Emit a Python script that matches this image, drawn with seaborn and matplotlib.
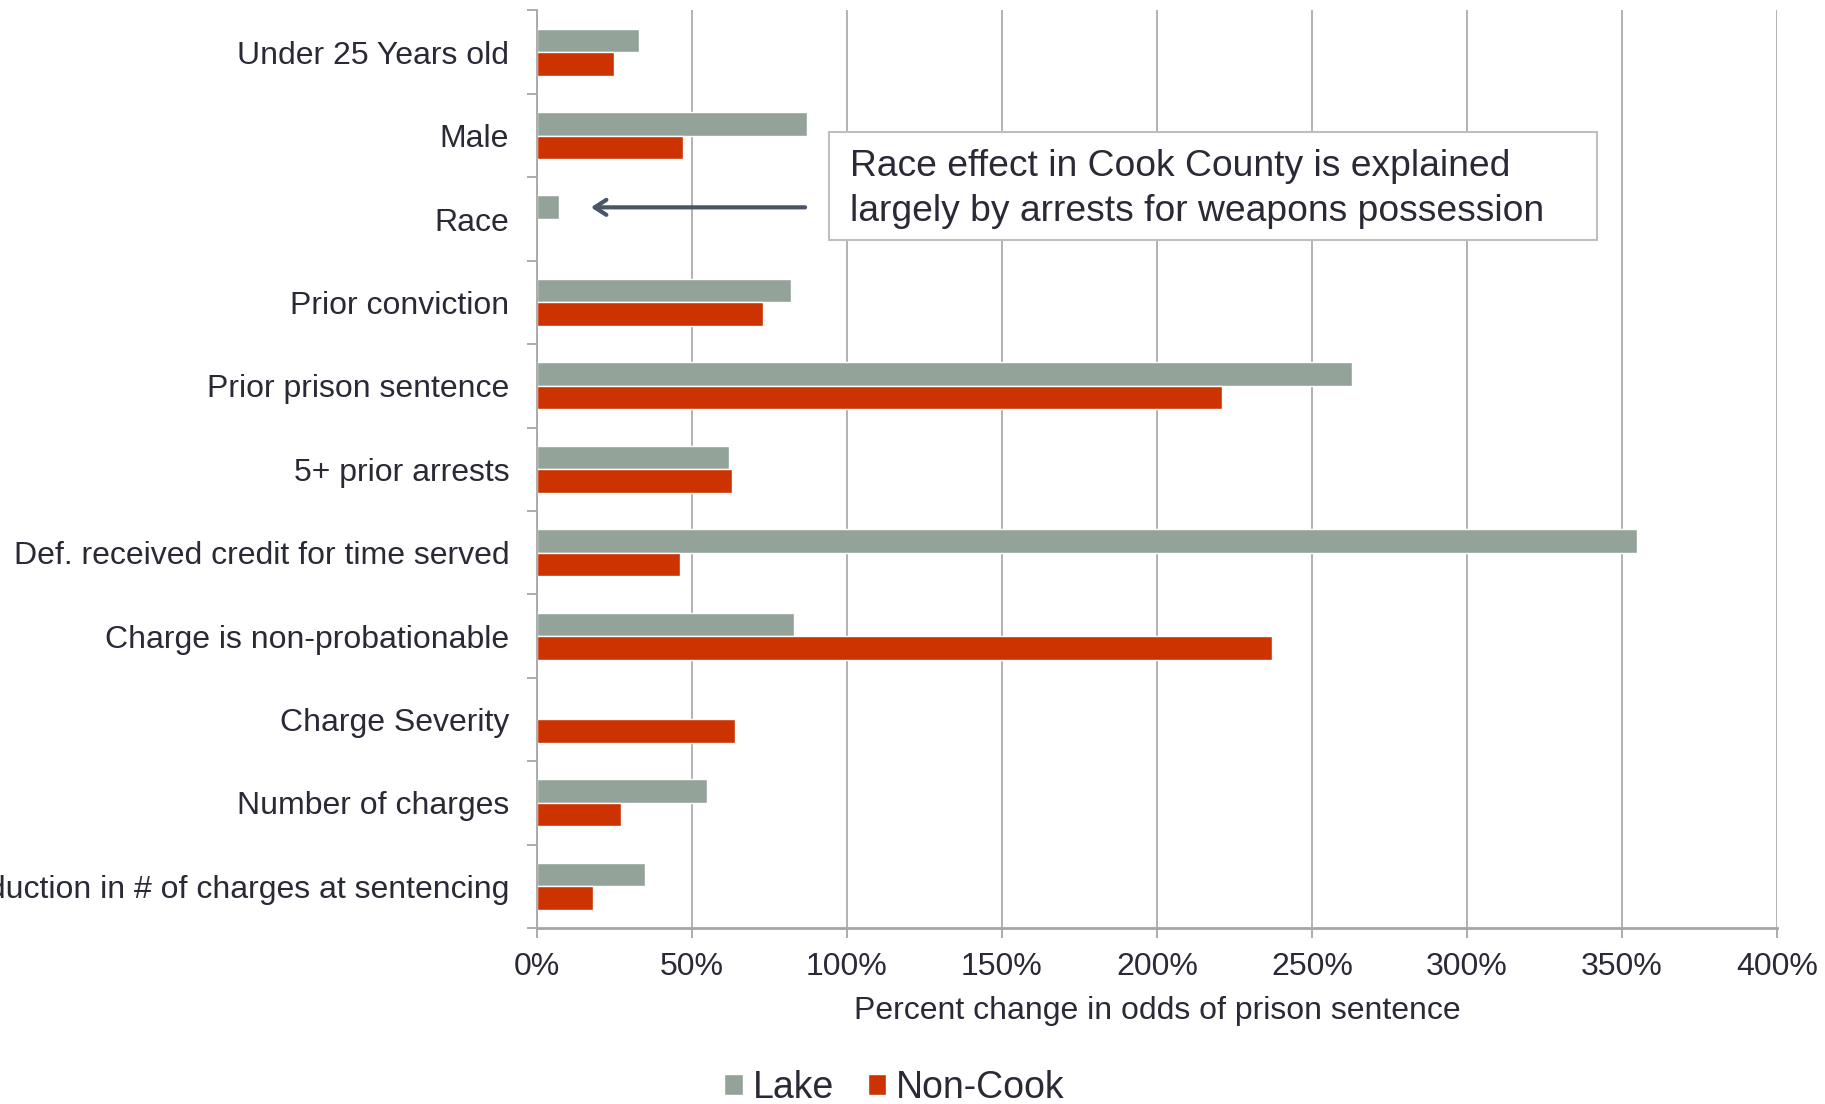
import matplotlib
matplotlib.use("Agg")
import matplotlib.pyplot as plt
from matplotlib.patches import Rectangle
from matplotlib.ticker import FixedLocator, PercentFormatter
import numpy as np
import pandas as pd
import seaborn as sns

# Factors in the sentencing model
factors = [
    "Under 25 Years old",
    "Male",
    "Race",
    "Prior conviction",
    "Prior prison sentence",
    "5+ prior arrests",
    "Def. received credit for time served",
    "Charge is non-probationable",
    "Charge Severity",
    "Number of charges",
    "Reduction in # of charges at sentencing",
]

# Percent change in odds of a prison sentence (None = not shown)
lake = [33, 87, 7, 82, 263, 62, 355, 83, None, 55, 35]
non_cook = [25, 47, None, 73, 221, 63, 46, 237, 64, 27, 18]

series = ["Lake", "Non-Cook"]
colors = {"Lake": "#93A39A", "Non-Cook": "#CC3300"}
x_ticks = [0, 50, 100, 150, 200, 250, 300, 350, 400]

rows = []
for name, vals in zip(series, [lake, non_cook]):
    for f, v in zip(factors, vals):
        if v is not None:
            rows.append({"factor": f, "series": name, "pct": v})
df = pd.DataFrame(rows)

sns.set_theme(style="white")
plt.rcParams["font.family"] = ["Liberation Sans", "DejaVu Sans"]
text_color = "#2A2A36"
grid_color = "#A6A6A6"

fig = plt.figure(figsize=(18.25, 11.04), dpi=100)
ax = fig.add_axes([0.2942, 0.1594, 0.6795, 0.8311])

sns.barplot(
    data=df, y="factor", x="pct", hue="series",
    order=factors, hue_order=series, palette=colors,
    orient="h", width=0.565, saturation=1, ax=ax, errorbar=None,
)

ax.set_xlim(0, 400)
ax.set_ylim(len(factors) - 0.5, -0.5)
ax.xaxis.set_major_locator(FixedLocator(x_ticks))
ax.xaxis.set_major_formatter(PercentFormatter(decimals=0))
ax.grid(axis="x", color=grid_color, linewidth=1.2)
ax.grid(axis="y", visible=False)
ax.set_axisbelow(True)

for side in ["top", "right"]:
    ax.spines[side].set_visible(False)
ax.spines["left"].set_color(grid_color)
ax.spines["left"].set_linewidth(1.3)
ax.spines["bottom"].set_color(grid_color)
ax.spines["bottom"].set_linewidth(2.0)

# Category labels centred, tick marks at the category boundaries
ax.set_yticks(np.arange(len(factors)))
ax.set_yticklabels(factors)
ax.yaxis.set_minor_locator(FixedLocator(np.arange(-0.5, len(factors), 1.0)))
ax.tick_params(axis="y", which="major", length=0, pad=20, labelsize=23, labelcolor=text_color)
ax.tick_params(axis="y", which="minor", left=True, length=7, width=1.3, color=grid_color)
ax.tick_params(axis="x", which="major", bottom=True, length=7, width=1.3, color=grid_color,
               pad=10.5, labelsize=23, labelcolor=text_color)

ax.set_ylabel("")
ax.set_xlabel("Percent change in odds of prison sentence", fontsize=23, color=text_color, labelpad=10)

# Legend below the chart
handles, labels = ax.get_legend_handles_labels()
ax.get_legend().remove()
fig.legend(handles, labels, loc="center", bbox_to_anchor=(0.49, 0.0145), ncol=2,
           frameon=False, fontsize=27, handlelength=0.5, handleheight=0.5,
           handletextpad=0.25, columnspacing=0.9, borderpad=0, labelcolor=text_color)

# Callout about the race effect
box = Rectangle((0.4542, 0.7826), 0.4208, 0.0978, transform=fig.transFigure,
                facecolor="white", edgecolor="#BFBFBF", linewidth=1.5, zorder=5)
fig.patches.append(box)
fig.text(0.4657, 0.8290,
         "Race effect in Cook County is explained\nlargely by arrests for weapons possession",
         fontsize=26.8, color=text_color, va="center", ha="left", linespacing=1.35, zorder=6)

race_y = factors.index("Race") - 0.14
ax.annotate("", xy=(16.5, race_y), xytext=(87.4, race_y),
            arrowprops=dict(arrowstyle="->,head_length=0.7,head_width=0.45",
                            color="#4A5566", linewidth=3.0, capstyle="round"))

fig.savefig("out.png", dpi=100)
